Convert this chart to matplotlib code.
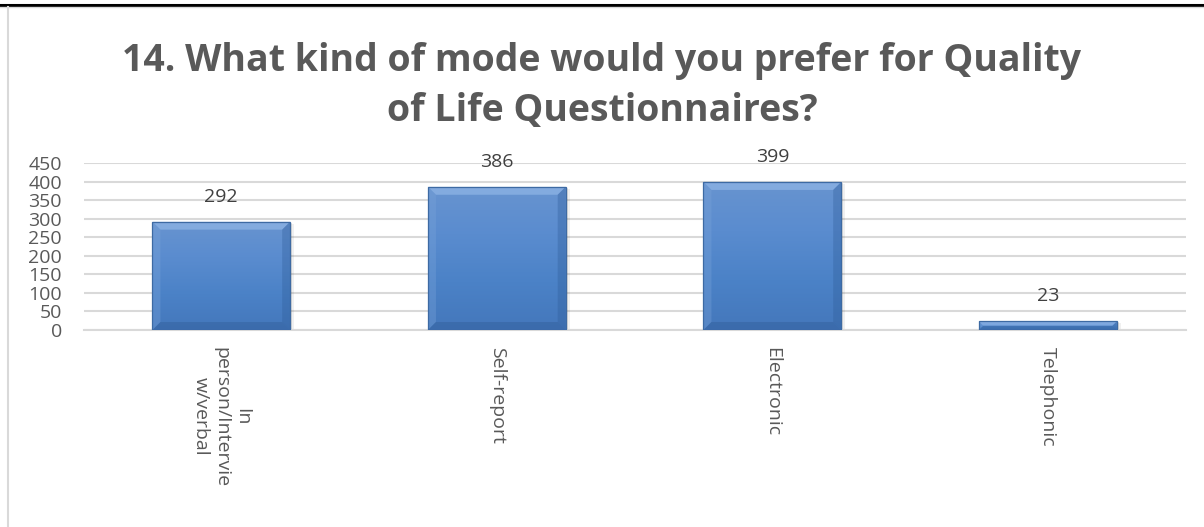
import matplotlib
matplotlib.use("Agg")
import matplotlib.pyplot as plt
import numpy as np
from matplotlib.patches import Polygon, Rectangle
from matplotlib.lines import Line2D

TITLE = "14. What kind of mode would you prefer for Quality\nof Life Questionnaires?"
CATEGORIES = ["In\nperson/Intervie\nw/verbal", "Self-report", "Electronic", "Telephonic"]
VALUES = [292, 386, 399, 23]
Y_TICKS = [0, 50, 100, 150, 200, 250, 300, 350, 400, 450]

TEXT_GRAY = "#595959"
GRID_GRAY = "#d9d9d9"

plt.rcParams["font.family"] = ["Open Sans", "DejaVu Sans"]

fig = plt.figure(figsize=(12.04, 5.27), dpi=100)
ax = fig.add_axes([0.0694, 0.3738, 0.9153, 0.3169])

x = np.arange(len(CATEGORIES))
bars = ax.bar(x, VALUES, width=0.5, color="none", edgecolor="none", zorder=3)

ax.set_xlim(-0.5, len(CATEGORIES) - 0.5)
ax.set_ylim(0, 450)
ax.set_yticks(Y_TICKS)
ax.set_yticklabels([str(t) for t in Y_TICKS])
ax.set_xticks(x)
ax.set_xticklabels(CATEGORIES, rotation=-90, va="top", ha="center",
                   multialignment="center")
ax.tick_params(axis="y", length=0, pad=15.5, labelsize=14, labelcolor=TEXT_GRAY)
ax.tick_params(axis="x", length=0, pad=12, labelsize=14, labelcolor=TEXT_GRAY)
ax.grid(axis="y", color=GRID_GRAY, linewidth=1.5, zorder=0)
for side in ["top", "right", "left"]:
    ax.spines[side].set_visible(False)
ax.spines["bottom"].set_color(GRID_GRAY)
ax.spines["bottom"].set_linewidth(1.5)

# pixel -> data scale for bevel sizes
fig.canvas.draw()
p0 = ax.transData.transform((0, 0))
p1 = ax.transData.transform((1, 1))
px_x = 1.0 / (p1[0] - p0[0])
px_y = 1.0 / (p1[1] - p0[1])

grad = np.linspace(0, 1, 256).reshape(-1, 1)
cmap = matplotlib.colors.LinearSegmentedColormap.from_list(
    "bar", ["#4477bb", "#4b82c7", "#5a8ccf", "#6894d0"])

for rect, val in zip(bars, VALUES):
    x0 = rect.get_x()
    w = rect.get_width()
    h = rect.get_height()
    x1 = x0 + w

    # soft shadow
    for k, a in [(4, 0.06), (2, 0.10)]:
        ax.add_patch(Rectangle((x0 + k * px_x * 0.5, -k * px_y * 0.5), w + k * px_x * 0.5, h,
                               facecolor="#000000", alpha=a, edgecolor="none", zorder=2))

    im = ax.imshow(grad, cmap=cmap, aspect="auto", origin="lower",
                   extent=(x0, x1, 0, h), zorder=3)
    clip = Rectangle((x0, 0), w, h, transform=ax.transData)
    im.set_clip_path(clip)

    bpx = min(8.0, h / px_y / 2)
    bx = bpx * px_x
    by = bpx * px_y
    top = Polygon([(x0, h), (x1, h), (x1 - bx, h - by), (x0 + bx, h - by)],
                  facecolor="#9cc0ee", alpha=0.55, edgecolor="none", zorder=4)
    left = Polygon([(x0, 0), (x0, h), (x0 + bx, h - by), (x0 + bx, by)],
                   facecolor="#7aa4da", alpha=0.35, edgecolor="none", zorder=4)
    right = Polygon([(x1, 0), (x1, h), (x1 - bx, h - by), (x1 - bx, by)],
                    facecolor="#2f5d99", alpha=0.35, edgecolor="none", zorder=4)
    bottom = Polygon([(x0, 0), (x1, 0), (x1 - bx, by), (x0 + bx, by)],
                     facecolor="#2c5790", alpha=0.35, edgecolor="none", zorder=4)
    for p in (top, left, right, bottom):
        ax.add_patch(p)
    ax.add_patch(Rectangle((x0, 0), w, h, facecolor="none", edgecolor="#3d6aa3",
                           linewidth=0.9, zorder=5))

    ax.annotate(str(val), (x0 + w / 2, h), xytext=(0, 18), textcoords="offset points",
                ha="center", va="center", fontsize=14, color="#404040", zorder=6)

fig.text(0.5, 1 - 86 / 527, TITLE, ha="center", va="center", fontsize=27,
         fontweight="bold", color=TEXT_GRAY, linespacing=1.43)

# outer frame lines
fig.add_artist(Line2D([0, 1], [1 - 5 / 527, 1 - 5 / 527], color="black",
                      linewidth=2.2, transform=fig.transFigure))
fig.add_artist(Line2D([0, 1], [1 - 7 / 527, 1 - 7 / 527], color=GRID_GRAY,
                      linewidth=1.0, transform=fig.transFigure))
fig.add_artist(Line2D([7.5 / 1204, 7.5 / 1204], [0, 1 - 7 / 527], color=GRID_GRAY,
                      linewidth=1.5, transform=fig.transFigure))

fig.savefig("out.png", dpi=100)
